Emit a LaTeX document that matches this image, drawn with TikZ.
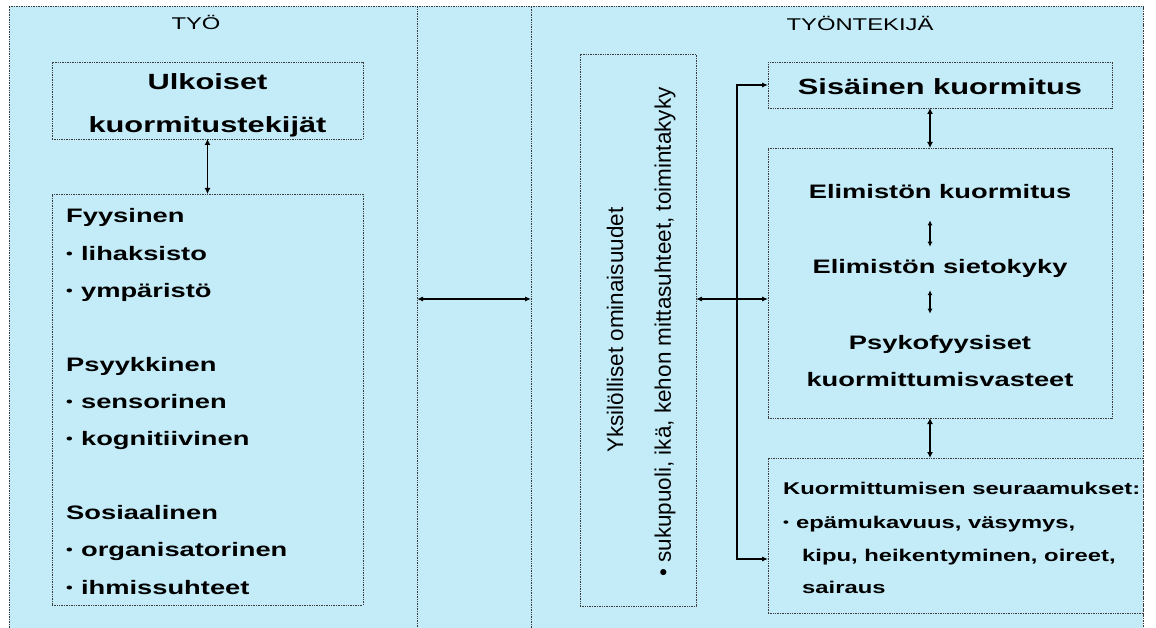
\documentclass[tikz,border=0pt]{standalone}
\usepackage{fontspec}
\setmainfont{Liberation Sans}[FakeStretch=1.4]
\newfontfamily\rotfont{Liberation Sans}
\usetikzlibrary{arrows.meta}
\definecolor{bgblue}{RGB}{195,236,248}
\definecolor{lin}{RGB}{60,60,60}
\newcommand{\bul}{\raisebox{0.1em}{\scalebox{0.7}{•}}\hspace{0.42em}}
\tikzset{
  panel/.style={draw=lin, line width=0.9pt, dash pattern=on 1pt off 0.7pt, fill=bgblue, inner sep=0pt, outer sep=0pt},
  box/.style={draw=lin, line width=0.9pt, dash pattern=on 1pt off 0.7pt, inner sep=0pt, outer sep=0pt},
  bigt/.style={inner sep=0pt, font=\fontsize{22}{26}\selectfont\bfseries},
  midt/.style={inner sep=0pt, font=\fontsize{19.5}{23}\selectfont\bfseries},
  smallt/.style={inner sep=0pt, font=\fontsize{17}{20}\selectfont\bfseries},
  titlet/.style={inner sep=0pt, font=\fontsize{17}{20}\selectfont},
  rott/.style={inner sep=0pt, rotate=90, font=\rotfont\fontsize{22.5}{27}\selectfont},
  varrow/.style={draw=black, line width=1.8pt, {Latex[length=6pt,width=6pt]}-{Latex[length=6pt,width=6pt]}},
  sarrow/.style={draw=black, line width=1.2pt, {Latex[length=5pt,width=5pt]}-{Latex[length=5pt,width=5pt]}},
  harrow/.style={draw=black, line width=1.1pt, {Latex[length=6pt,width=5pt]}-{Latex[length=6pt,width=5pt]}},
}
\begin{document}
\begin{tikzpicture}[x=1pt, y=-1pt]
\useasboundingbox (0,0) rectangle (1156,628);
\fill[white] (0,0) rectangle (1156,628);
% background and panels
\node[panel, minimum width=1134pt, minimum height=640pt] (bg) at (576,326) {};
\node[panel, minimum width=408pt, minimum height=640pt] (leftpanel) at (213,326) {};
\node[panel, minimum width=612pt, minimum height=640pt] (rightpanel) at (837,326) {};
% titles
\node[titlet, anchor=base] (tyo) at (196,30) {TYÖ};
\node[titlet, anchor=base] (tyontekija) at (860,30.5) {TYÖNTEKIJÄ};
% left boxes
\node[box, minimum width=311pt, minimum height=77pt] (ulk) at (207.5,100.5) {};
\node[bigt, anchor=base] (ulk1) at (207.5,90) {Ulkoiset};
\node[bigt, anchor=base] (ulk2) at (207.5,133) {kuormitustekijät};
\node[box, minimum width=311pt, minimum height=411pt] (fact) at (207.5,399.5) {};
\node[midt, anchor=base west] (f1) at (66,223) {Fyysinen};
\node[midt, anchor=base west] (f2) at (66,260.1) {\bul lihaksisto};
\node[midt, anchor=base west] (f3) at (66,297.2) {\bul ympäristö};
\node[midt, anchor=base west] (f4) at (66,371.4) {Psyykkinen};
\node[midt, anchor=base west] (f5) at (66,408.5) {\bul sensorinen};
\node[midt, anchor=base west] (f6) at (66,445.6) {\bul kognitiivinen};
\node[midt, anchor=base west] (f7) at (66,519.8) {Sosiaalinen};
\node[midt, anchor=base west] (f8) at (66,556.9) {\bul organisatorinen};
\node[midt, anchor=base west] (f9) at (66,594) {\bul ihmissuhteet};
% right side boxes
\node[box, minimum width=116pt, minimum height=552pt] (yks) at (638,330) {};
\node[rott] (yks1) at (615,330) {Yksilölliset ominaisuudet};
\node[rott] (yks2) at (665,332) {• sukupuoli, ikä, kehon mittasuhteet, toimintakyky};
\node[box, minimum width=344pt, minimum height=46pt] (sis) at (940,85) {};
\node[bigt, anchor=base] (sis1) at (940,95) {Sisäinen kuormitus};
\node[box, minimum width=344pt, minimum height=270pt] (elim) at (940,283) {};
\node[midt, anchor=base] (e1) at (940,199) {Elimistön kuormitus};
\node[midt, anchor=base] (e2) at (940,274) {Elimistön sietokyky};
\node[midt, anchor=base] (e3) at (940,349) {Psykofyysiset};
\node[midt, anchor=base] (e4) at (940,386) {kuormittumisvasteet};
\node[box, minimum width=375pt, minimum height=155pt] (seur) at (955.5,535.5) {};
\node[smallt, anchor=base west] (s1) at (783,494) {Kuormittumisen seuraamukset:};
\node[smallt, anchor=base west] (s2) at (783,528) {\bul epämukavuus, väsymys,};
\node[smallt, anchor=base west] (s3) at (802,561) {kipu, heikentyminen, oireet,};
\node[smallt, anchor=base west] (s4) at (802,593) {sairaus};
% helper coordinates
\coordinate (midy) at (0,299);
\coordinate (ax) at (930,0);
\coordinate (cx) at (737,0);
\coordinate (sy) at (0,559);
% connectors
\draw[varrow] (ulk.south) -- (fact.north);
\draw[harrow] (leftpanel.east |- midy) -- (rightpanel.west |- midy);
\draw[harrow] (yks.east |- midy) -- (elim.west |- midy);
\draw[varrow] (sis.south -| ax) -- (elim.north -| ax);
\draw[varrow] (elim.south -| ax) -- (seur.north -| ax);
\draw[sarrow, shorten <=21pt, shorten >=13pt] (e1.south -| ax) -- (e2.north -| ax);
\draw[sarrow, shorten <=12pt, shorten >=21pt] (e2.south -| ax) -- (e3.north -| ax);
\draw[harrow] (sis.west) -| (cx |- sy) -- (seur.west |- sy);
% white outer margin on the right
\fill[white] (1144,0) rectangle (1156,628);
\end{tikzpicture}
\end{document}
